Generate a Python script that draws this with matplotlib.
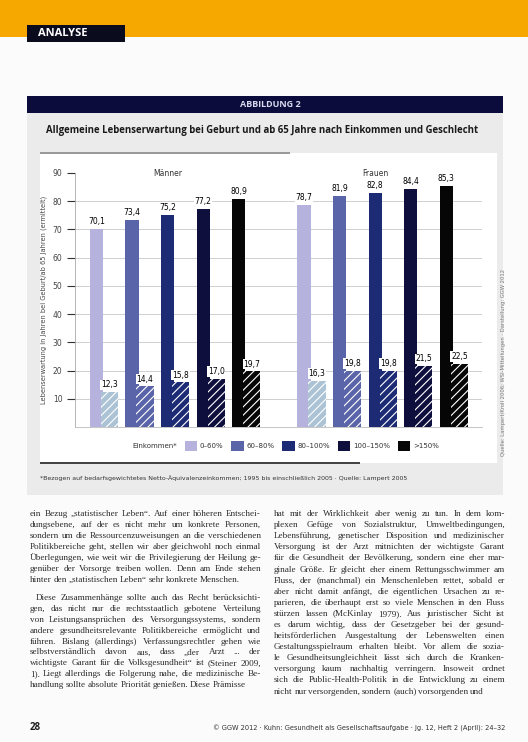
import matplotlib
matplotlib.use('Agg')
import matplotlib.pyplot as plt
import numpy as np
from matplotlib.patches import Rectangle, Patch

# page size in pixels
W, H = 528, 742

# chart data
groups = ['Männer', 'Frauen']
income = ['0–60%', '60–80%', '80–100%', '100–150%', '>150%']
men_birth = [70.1, 73.4, 75.2, 77.2, 80.9]
men_65 = [12.3, 14.4, 15.8, 17.0, 19.7]
women_birth = [78.7, 81.9, 82.8, 84.4, 85.3]
women_65 = [16.3, 19.8, 19.8, 21.5, 22.5]
yticks = [10, 20, 30, 40, 50, 60, 70, 80, 90]

colors = ['#b5b3dd', '#5a64a8', '#1d2a74', '#0f0f3e', '#060606']
colors_65 = ['#abc3d5', '#5a64a8', '#1d2a74', '#0f0f3e', '#060606']

title = 'Allgemeine Lebenserwartung bei Geburt und ab 65 Jahre nach Einkommen und Geschlecht'
ylabel = 'Lebenserwartung in Jahren bei Geburt/ab 65 Jahren (ermittelt)'
footnote = ('*Bezogen auf bedarfsgewichtetes Netto-Äquivalenzeinkommen; 1995 bis einschließlich 2005 · '
            'Quelle: Lampert 2005')
credit = 'Quelle: Lampert/Kroll 2006; WSI-Mitteilungen · Darstellung: GGW 2012'

left_par1 = [
    'ein Bezug „statistischer Leben“. Auf einer höheren Entschei-',
    'dungsebene, auf der es nicht mehr um konkrete Personen,',
    'sondern um die Ressourcenzuweisungen an die verschiedenen',
    'Politikbereiche geht, stellen wir aber gleichwohl noch einmal',
    'Überlegungen, wie weit wir die Privilegierung der Heilung ge-',
    'genüber der Vorsorge treiben wollen. Denn am Ende stehen',
    'hinter den „statistischen Leben“ sehr konkrete Menschen.',
]
left_par2 = [
    'Diese Zusammenhänge sollte auch das Recht berücksichti-',
    'gen, das nicht nur die rechtsstaatlich gebotene Verteilung',
    'von Leistungsansprüchen des Versorgungssystems, sondern',
    'andere gesundheitsrelevante Politikbereiche ermöglicht und',
    'führen. Bislang (allerdings) Verfassungsrechtler gehen wie',
    'selbstverständlich davon aus, dass „der Arzt ... der',
    'wichtigste Garant für die Volksgesundheit“ ist (Steiner 2009,',
    '1). Liegt allerdings die Folgerung nahe, die medizinische Be-',
    'handlung sollte absolute Priorität genießen. Diese Prämisse',
]
right_par = [
    'hat mit der Wirklichkeit aber wenig zu tun. In dem kom-',
    'plexen Gefüge von Sozialstruktur, Umweltbedingungen,',
    'Lebensführung, genetischer Disposition und medizinischer',
    'Versorgung ist der Arzt mitnichten der wichtigste Garant',
    'für die Gesundheit der Bevölkerung, sondern eine eher mar-',
    'ginale Größe. Er gleicht eher einem Rettungsschwimmer am',
    'Fluss, der (manchmal) ein Menschenleben rettet, sobald er',
    'aber nicht damit anfängt, die eigentlichen Ursachen zu re-',
    'parieren, die überhaupt erst so viele Menschen in den Fluss',
    'stürzen lassen (McKinlay 1979). Aus juristischer Sicht ist',
    'es darum wichtig, dass der Gesetzgeber bei der gesund-',
    'heitsförderlichen Ausgestaltung der Lebenswelten einen',
    'Gestaltungsspielraum erhalten bleibt. Vor allem die sozia-',
    'le Gesundheitsungleichheit lässt sich durch die Kranken-',
    'versorgung kaum nachhaltig verringern. Insoweit ordnet',
    'sich die Public-Health-Politik in die Entwicklung zu einem',
    'nicht nur versorgenden, sondern (auch) vorsorgenden und',
]


def fx(x):
    return x / W


def fy(y):
    return 1 - y / H


def rect(fig, x0, y0, x1, y1, color, z=-10):
    fig.patches.append(Rectangle((fx(x0), fy(y1)), fx(x1) - fx(x0), fy(y0) - fy(y1),
                                 transform=fig.transFigure, facecolor=color,
                                 edgecolor='none', zorder=z))


def justify(fig, lines, x0, x1, y, lh, size, indent=0):
    # place each word so that every line but the last fills the column
    r = fig.canvas.get_renderer()
    for i, line in enumerate(lines):
        ypos = fy(y + i * lh)
        start = x0 + (indent if i == 0 else 0)
        words = line.split()
        last = i == len(lines) - 1
        arts = [fig.text(0, ypos, w, fontsize=size, family='Liberation Serif',
                         color='#2a2a2a', va='baseline') for w in words]
        widths = [a.get_window_extent(r).width for a in arts]
        space = 1.8
        if not last and len(words) > 1:
            space = (x1 - start - sum(widths)) / (len(words) - 1)
            if space < 1.4:
                # line too long: shrink the font a little
                k = (x1 - start - 1.4 * (len(words) - 1)) / sum(widths)
                for a in arts:
                    a.set_fontsize(size * k)
                widths = [w * k for w in widths]
                space = 1.4
        xp = start
        for a, w in zip(arts, widths):
            a.set_x(fx(xp))
            xp += w + space


fig = plt.figure(figsize=(W / 100, H / 100), dpi=100)
fig.patch.set_facecolor('#fbfbfb')
plt.rcParams['hatch.linewidth'] = 0.8

# header band
rect(fig, 0, 0, W, 37, '#f6a800')
rect(fig, 27, 25, 125, 42, '#0b0b1e', z=-9)
fig.text(fx(38), fy(34), 'ANALYSE', color='white', fontsize=8, fontweight='bold',
         family='Open Sans', va='center')

# figure panel
rect(fig, 27, 96, 503, 113, '#0c0c3c')
fig.text(fx(270), fy(104.5), 'ABBILDUNG 2', color='#d8d8ee', fontsize=6.5,
         fontweight='bold', family='Open Sans', ha='center', va='center')
rect(fig, 27, 113, 503, 495, '#ebebeb')
rect(fig, 40, 153, 497, 463, '#ffffff', z=-9)
rect(fig, 40, 152, 290, 153.6, '#9a9a9a', z=-8)
rect(fig, 40, 462, 360, 463.6, '#444444', z=-8)
fig.text(fx(262), fy(131), title, fontsize=6.9, fontweight='bold',
         family='Open Sans', ha='center', va='center', color='#1a1a1a')

ax = fig.add_axes([fx(75), fy(427), fx(482) - fx(75), fy(173) - fy(427)])
ax.set_facecolor('none')
ax.set_zorder(2)

x_m = np.arange(5)
x_w = np.arange(5) + 5.83
bw = 0.37
for xs, birth, old in [(x_m, men_birth, men_65), (x_w, women_birth, women_65)]:
    left = xs - bw / 2
    ax.bar(left, birth, width=bw, align='edge', color=colors, zorder=2)
    ax.bar(left + 0.31, old, width=0.48, align='edge', color=colors_65,
           edgecolor='white', linewidth=0, hatch='////', zorder=3)
    for xi, v in zip(xs, birth):
        ax.text(xi, v + 1, f'{v:.1f}'.replace('.', ','), ha='center', va='bottom',
                fontsize=5.5, zorder=5,
                bbox=dict(facecolor='white', edgecolor='none', pad=0.6))
    for xi, v in zip(left + 0.55, old):
        ax.text(xi, v + 1, f'{v:.1f}'.replace('.', ','), ha='center', va='bottom',
                fontsize=5.5, zorder=5,
                bbox=dict(facecolor='white', edgecolor='none', pad=0.6))

ax.text(x_m.mean(), 90, groups[0], ha='center', va='center', fontsize=5.5, color='#333333')
ax.text(x_w.mean(), 90, groups[1], ha='center', va='center', fontsize=5.5, color='#333333')

ax.set_ylim(0, 90)
ax.set_xlim(-0.6, 10.83)
ax.set_yticks(yticks)
ax.set_yticklabels([str(t) for t in yticks], fontsize=5.5, color='#444444')
ax.set_xticks([])
ax.tick_params(axis='y', length=6, width=0.8, color='#333333', pad=3)
for t in yticks[:-1]:
    ax.axhline(t, color='#cfcfcf', linewidth=0.7, zorder=1)
for s in ['top', 'right']:
    ax.spines[s].set_visible(False)
ax.spines['left'].set_color('#aaaaaa')
ax.spines['left'].set_linewidth(0.6)
ax.spines['bottom'].set_color('#bbbbbb')
ax.spines['bottom'].set_linewidth(0.6)
ax.set_ylabel(ylabel, fontsize=4.8, color='#444444', labelpad=4)

# legend
handles = [Patch(facecolor='none', edgecolor='none', label='Einkommen*')]
handles += [Patch(facecolor=c, edgecolor='none', label=l) for c, l in zip(colors, income)]
fig.legend(handles=handles, ncol=6, loc='center', bbox_to_anchor=(fx(278), fy(446)),
           frameon=False, fontsize=5, handlelength=1.8, handleheight=1.8,
           columnspacing=1.1, handletextpad=0.4, labelcolor='#333333')

fig.text(fx(40), fy(478), footnote, fontsize=4.5, color='#333333', va='center')
fig.text(fx(503), fy(362), credit, fontsize=3.8, color='#777777', rotation=90,
         ha='center', va='center')

# body text
justify(fig, left_par1, 30, 261, 516, 11.0, 6.6)
justify(fig, left_par2, 30, 261, 600, 10.9, 6.6, indent=6)
justify(fig, right_par, 274, 505, 516, 11.1, 6.6)

# footer
fig.text(fx(30), fy(728), '28', fontsize=7, fontweight='bold', color='#222222',
         family='Open Sans', va='center')
fig.text(fx(505), fy(728), '© GGW 2012 · Kuhn: Gesundheit als Gesellschaftsaufgabe · Jg. 12, Heft 2 (April): 24–32',
         fontsize=4.8, color='#333333', ha='right', va='center')

fig.savefig('out.png', dpi=100, facecolor=fig.get_facecolor())
